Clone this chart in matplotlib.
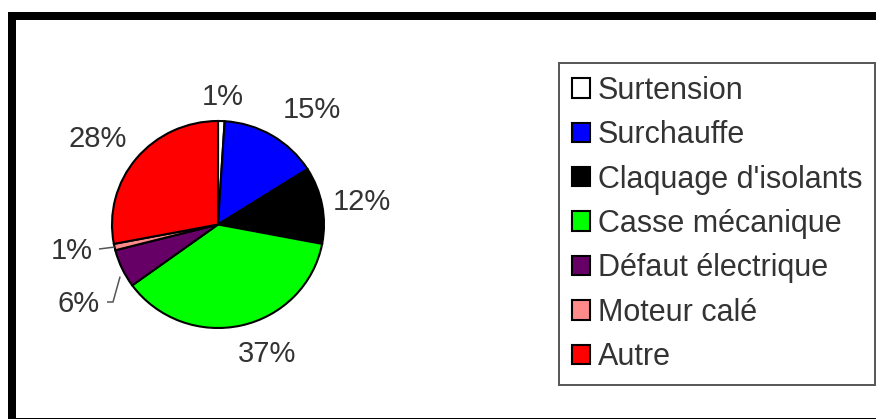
import matplotlib
matplotlib.use("Agg")
import matplotlib.pyplot as plt
from matplotlib.patches import Rectangle
import numpy as np

plt.rcParams["font.family"] = ["Liberation Sans", "DejaVu Sans"]

# Causes of motor failure (share of cases, %)
categories = ["Surtension", "Surchauffe", "Claquage d'isolants", "Casse mécanique",
              "Défaut électrique", "Moteur calé", "Autre"]
shares = [1, 15, 12, 37, 6, 1, 28]
pct_labels = [f"{v}%" for v in shares]
colors = ["#ffffff", "#0000ff", "#000000", "#00ff00", "#660066", "#ff8a8a", "#ff0000"]

# ---- layout (pixels) ----
W, H, DPI = 876, 419, 100
CX, CY = 218, 194.5        # pie centre, measured from bottom-left
RX, RY = 106, 103.5        # pixels per data unit (pie radius)
# percent label centres, pixel offsets from the pie centre
label_offsets = [(5, 129.5), (94, 116.5), (144, 24.5), (49, -127.5),
                 (-139, -77.5), (-146, -24.5), (-120, 87.5)]
TEXT = "#333333"
FS = 21

fig = plt.figure(figsize=(W / DPI, H / DPI), dpi=DPI)
fig.patch.set_facecolor("white")
ax = fig.add_axes([0, 0, 1, 1])

wedges, _ = ax.pie(shares, colors=colors, startangle=90, counterclock=False,
                   radius=1, wedgeprops=dict(edgecolor="black", linewidth=1.5))
ax.set_aspect("auto")
ax.set_xlim(-CX / RX, (W - CX) / RX)
ax.set_ylim(-CY / RY, (H - CY) / RY)
ax.axis("off")

# percent labels, baseline placed so the digits are centred on the offset point
cap = 0.716 * FS * DPI / 72
for (dx, dy), lab in zip(label_offsets, pct_labels):
    ax.text(dx / RX, (dy - cap / 2) / RY, lab, ha="center", va="baseline",
            fontsize=FS, color=TEXT)


def edge_point(w):
    mid = np.deg2rad((w.theta1 + w.theta2) / 2)
    return np.cos(mid), np.sin(mid)


# leader line for "Moteur calé"
ex, ey = edge_point(wedges[5])
lx, ly = label_offsets[5]
ax.plot([(lx + 27) / RX, ex], [ly / RY, ey], color="#555555", lw=1.1,
        solid_capstyle="butt")

# leader line for "Défaut électrique"
ex, ey = edge_point(wedges[4])
lx, ly = label_offsets[4]
ax.plot([(lx + 28) / RX, (lx + 34) / RX, ex - 2 / RX], [ly / RY, ly / RY, ey - 8 / RY],
        color="#555555", lw=1.1, solid_capstyle="butt")

# legend
leg = fig.legend(wedges, categories, loc="upper left",
                 bbox_to_anchor=(559 / W, 1 - 63 / H), bbox_transform=fig.transFigure,
                 fontsize=22, frameon=True, fancybox=False, framealpha=1,
                 edgecolor="#555555", handlelength=0.6, handleheight=0.6,
                 handletextpad=0.25, labelspacing=0.47, borderpad=0.42,
                 borderaxespad=0)
leg.get_frame().set_linewidth(1.4)
for t in leg.get_texts():
    t.set_color(TEXT)

# heavy black border around the figure
tf = fig.transFigure
for x0, y0, w, h in [(8, H - 20, W - 8, 8), (8, 0, 8, H - 12), (8, 0, W - 8, 1.5)]:
    fig.patches.append(Rectangle((x0 / W, y0 / H), w / W, h / H, transform=tf,
                                 facecolor="black", edgecolor="none"))

fig.savefig("out.png", dpi=DPI)
